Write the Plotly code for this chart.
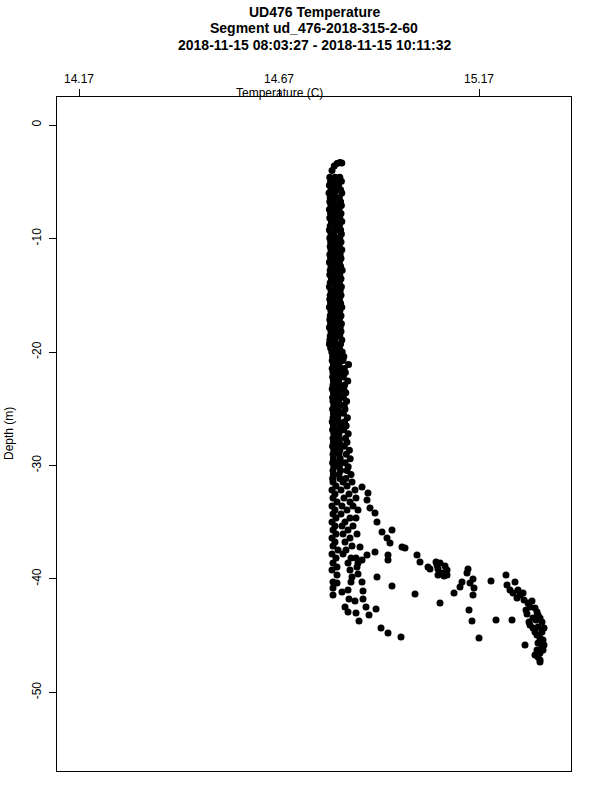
import plotly.graph_objects as go

# ---------------- data ----------------
x_tickvals = [14.17, 14.67, 15.17]
x_ticktext = ["14.17", "14.67", "15.17"]
y_tickvals = [0, -10, -20, -30, -40, -50]
y_ticktext = ["0", "-10", "-20", "-30", "-40", "-50"]

# top "hook" of the profile
hook_temp = [14.822, 14.815, 14.808, 14.8025, 14.827]
hook_depth = [-3.3, -3.4, -3.6, -4.0, -3.35]

# near-isothermal column: one depth per row, three temperatures per row
col_depth = [-4.6, -4.95, -5.3, -5.7, -6.0, -6.4, -6.75, -7.1, -7.45, -7.8,
             -8.2, -8.5, -8.9, -9.25, -9.6, -9.95, -10.3, -10.7, -11.0, -11.4,
             -11.75, -12.1, -12.45, -12.8, -13.2, -13.55, -13.9, -14.25, -14.6, -15.0,
             -15.35, -15.7, -16.05, -16.4, -16.8, -17.15, -17.5, -17.85, -18.2, -18.6,
             -18.95, -19.3, -19.65, -20.0, -20.4, -20.75, -21.1, -21.45, -21.8, -22.2,
             -22.55, -22.9, -23.25, -23.6, -24.0, -24.35, -24.7, -25.05, -25.4, -25.8,
             -26.15, -26.5, -26.85, -27.2, -27.6, -27.95, -28.3, -28.65, -29.0, -29.4,
             -29.75, -30.1, -30.45, -30.8, -31.15]
col_temp_left = [14.797, 14.799, 14.796, 14.800, 14.795, 14.798, 14.797, 14.800, 14.796, 14.799,
                 14.797, 14.801, 14.798, 14.796, 14.800, 14.797, 14.799, 14.798, 14.800, 14.797,
                 14.799, 14.796, 14.800, 14.798, 14.797, 14.801, 14.798, 14.796, 14.800, 14.798,
                 14.797, 14.799, 14.796, 14.800, 14.798, 14.797, 14.799, 14.796, 14.800, 14.798,
                 14.797, 14.796, 14.799, 14.802, 14.804, 14.803, 14.806, 14.803, 14.805, 14.804,
                 14.806, 14.805, 14.803, 14.806, 14.804, 14.805, 14.807, 14.804, 14.806, 14.805,
                 14.803, 14.806, 14.804, 14.807, 14.805, 14.806, 14.804, 14.807, 14.805, 14.806,
                 14.804, 14.807, 14.805, 14.806, 14.804]
col_temp_mid = [14.810, 14.812, 14.807, 14.813, 14.809, 14.811, 14.808, 14.814, 14.810, 14.812,
                14.809, 14.813, 14.810, 14.812, 14.808, 14.811, 14.813, 14.809, 14.812, 14.810,
                14.813, 14.808, 14.811, 14.814, 14.809, 14.812, 14.810, 14.813, 14.809, 14.811,
                14.813, 14.808, 14.812, 14.810, 14.813, 14.809, 14.811, 14.812, 14.810, 14.813,
                14.809, 14.811, 14.813, 14.816, 14.818, 14.816, 14.820, 14.818, 14.821, 14.817,
                14.819, 14.820, 14.818, 14.821, 14.817, 14.819, 14.820, 14.818, 14.821, 14.817,
                14.819, 14.822, 14.818, 14.820, 14.819, 14.821, 14.818, 14.822, 14.820, 14.823,
                14.819, 14.821, 14.824, 14.820, 14.822]
col_temp_right = [14.822, 14.826, 14.819, 14.824, 14.827, 14.821, 14.824, 14.826, 14.820, 14.825,
                  14.822, 14.827, 14.821, 14.824, 14.826, 14.822, 14.825, 14.821, 14.827, 14.823,
                  14.825, 14.821, 14.824, 14.828, 14.822, 14.825, 14.821, 14.826, 14.823, 14.825,
                  14.821, 14.824, 14.827, 14.822, 14.825, 14.821, 14.826, 14.823, 14.825, 14.822,
                  14.827, 14.824, 14.821, 14.828, 14.832, 14.830, 14.844, 14.833, 14.836, 14.831,
                  14.842, 14.834, 14.832, 14.837, 14.831, 14.839, 14.833, 14.835, 14.831, 14.841,
                  14.834, 14.838, 14.832, 14.843, 14.836, 14.840, 14.833, 14.846, 14.838, 14.848,
                  14.835, 14.843, 14.840, 14.850, 14.837]

# lower part of the cold column and the transition zone
low_temp = [14.805, 14.830, 14.8525, 14.8125, 14.840, 14.8025, 14.825, 14.860, 14.810, 14.845,
            14.805, 14.8325, 14.8625, 14.815, 14.8475, 14.8025, 14.8275, 14.855, 14.810, 14.840,
            14.8675, 14.805, 14.825, 14.8125, 14.8475, 14.8625, 14.8025, 14.835, 14.810, 14.8275,
            14.855, 14.805, 14.8425, 14.8125, 14.830, 14.865, 14.8025, 14.8475, 14.810, 14.835,
            14.805, 14.8525, 14.8175, 14.8375, 14.8025, 14.830, 14.8125, 14.850,
            14.805, 14.815, 14.8025, 14.8425, 14.8475, 14.8675, 14.865, 14.815, 14.8525, 14.8675,
            14.915, 14.805, 14.815, 14.850, 14.8775, 14.9525, 14.805, 14.8425, 14.880, 14.8275,
            14.805, 15.010, 14.845, 14.860, 14.880, 15.0725, 14.835, 14.8875, 14.9125, 14.8425,
            14.8625, 14.895, 14.870, 14.925, 14.9425, 14.975,
            14.8775, 14.8925, 14.890, 14.8975, 14.910, 14.915, 14.9275, 14.9525, 14.940, 14.9475,
            14.9775, 14.985, 14.910, 14.9425, 15.015, 15.0225, 15.0425, 15.065, 14.890, 14.8725,
            14.8625, 14.8775, 14.9425, 15.0675]
low_depth = [-31.45, -31.45, -31.45, -31.81, -31.81, -32.16, -32.16, -32.16, -32.51, -32.51,
             -32.86, -32.86, -32.86, -33.22, -33.22, -33.57, -33.57, -33.57, -33.92, -33.92,
             -33.92, -34.27, -34.27, -34.63, -34.63, -34.63, -34.98, -34.98, -35.33, -35.33,
             -35.33, -35.68, -35.68, -36.04, -36.04, -36.04, -36.39, -36.39, -36.74, -36.74,
             -37.09, -37.09, -37.44, -37.44, -37.80, -37.80, -38.15, -38.15,
             -38.59, -38.94, -39.21, -38.59, -39.21, -38.59, -38.94, -39.65, -39.82, -39.56,
             -39.82, -40.26, -40.35, -40.26, -40.26, -40.62, -40.79, -40.97, -41.06, -41.15,
             -41.41, -41.32, -41.76, -41.94, -41.76, -42.11, -42.47, -42.47, -42.64, -42.91,
             -43.00, -43.17, -43.70, -44.32, -44.76, -45.11,
             -31.89, -32.42, -33.04, -33.74, -34.19, -34.98, -35.86, -35.68, -36.39, -36.83,
             -37.18, -37.27, -37.62, -37.89, -37.89, -38.50, -38.94, -38.77, -37.89, -37.18,
             -38.15, -38.33, -38.33, -39.65]

# warm water near the bottom
deep_temp = [15.0625, 15.0725, 15.085, 15.090, 15.090, 15.080, 15.0675, 15.0825, 15.0475,
             15.1425, 15.140, 15.155, 15.1275, 15.1225, 15.1075, 15.1475, 15.1575, 15.155,
             15.200, 15.2375, 15.260, 15.240, 15.2475, 15.255, 15.2675, 15.2725, 15.280, 15.265,
             15.2825, 15.2925, 15.3025, 15.2975, 15.310, 15.315, 15.3175, 15.3225, 15.3275, 15.3125,
             15.2975, 15.305, 15.3175, 15.3275, 15.315, 15.3225, 15.330, 15.3175, 15.3275, 15.315,
             15.3225, 15.330, 15.3175, 15.3225, 15.3225, 15.285, 15.290, 15.295,
             15.145, 15.1525, 15.2125, 15.2525, 15.170,
             15.305, 15.310, 15.310, 15.3325, 15.3325, 15.2875]
deep_depth = [-38.50, -38.59, -38.85, -39.21, -39.65, -39.47, -39.12, -39.74, -39.12,
              -39.12, -39.47, -40.00, -40.26, -40.70, -41.23, -40.35, -40.79, -41.41,
              -40.18, -39.65, -40.26, -40.53, -40.97, -41.23, -40.97, -41.41, -41.23, -41.67,
              -41.85, -42.11, -41.94, -42.47, -42.56, -42.91, -43.17, -43.44, -43.79, -43.61,
              -44.05, -44.32, -44.23, -44.67, -44.93, -45.20, -45.37, -45.64, -45.99, -46.26,
              -46.52, -46.26, -46.87, -47.14, -47.31, -45.81, -43.08, -43.79,
              -42.73, -43.70, -43.61, -43.61, -45.20,
              -43.44, -44.67, -46.70, -44.32, -45.81, -42.73]

# ---------------- assemble ----------------
temps = list(hook_temp)
depths = list(hook_depth)
for d, a, b, c in zip(col_depth, col_temp_left, col_temp_mid, col_temp_right):
    temps += [a, b, c]
    depths += [d, d, d]
temps += low_temp + deep_temp
depths += low_depth + deep_depth

FONT = "Liberation Sans, Arial, Helvetica, sans-serif"

fig = go.Figure()
fig.add_trace(go.Scatter(
    x=temps, y=depths, mode="markers",
    marker=dict(color="black", size=7, line=dict(width=0)),
    hoverinfo="skip",
))

fig.update_layout(
    width=600, height=800,
    margin=dict(l=57, r=29, t=97, b=29),
    plot_bgcolor="white", paper_bgcolor="white",
    showlegend=False,
    font=dict(family=FONT, size=12, color="black"),
    xaxis=dict(
        side="top", range=[14.115, 15.40],
        tickvals=x_tickvals, ticktext=x_ticktext,
        ticks="outside", ticklen=7, tickwidth=1, tickcolor="black",
        ticklabelstandoff=1,
        showline=True, linewidth=1, linecolor="black", mirror=True,
        showgrid=False, zeroline=False,
        tickfont=dict(family=FONT, size=12, color="black"),
    ),
    yaxis=dict(
        range=[-56.92, 2.47],
        tickvals=y_tickvals, ticktext=y_ticktext, tickangle=-90,
        ticks="outside", ticklen=7, tickwidth=1, tickcolor="black",
        ticklabelstandoff=3,
        showline=True, linewidth=1, linecolor="black", mirror=True,
        showgrid=False, zeroline=False,
        tickfont=dict(family=FONT, size=12, color="black"),
    ),
    annotations=[
        dict(text="<b>UD476 Temperature</b>", xref="paper", yref="paper",
             x=0.5, y=(771 - 12) / 674, xanchor="center", yanchor="middle",
             showarrow=False, font=dict(family=FONT, size=14, color="black")),
        dict(text="<b>Segment ud_476-2018-315-2-60</b>", xref="paper", yref="paper",
             x=0.5, y=(771 - 28) / 674, xanchor="center", yanchor="middle",
             showarrow=False, font=dict(family=FONT, size=14, color="black")),
        dict(text="<b>2018-11-15 08:03:27 - 2018-11-15 10:11:32</b>", xref="paper", yref="paper",
             x=0.5, y=(771 - 45) / 674, xanchor="center", yanchor="middle",
             showarrow=False, font=dict(family=FONT, size=14, color="black")),
        dict(text="Temperature (C)", xref="x", yref="paper",
             x=14.67, y=(771 - 93) / 674, xanchor="center", yanchor="middle",
             showarrow=False, font=dict(family=FONT, size=12, color="black")),
        dict(text="Depth (m)", xref="paper", yref="paper",
             x=(9 - 57) / 514, y=0.5, xanchor="center", yanchor="middle",
             textangle=-90, showarrow=False, font=dict(family=FONT, size=12, color="black")),
    ],
)

# remove the browser's default 8px body margin so the figure sits at the page origin
fig.write_html("out.html", config={"displayModeBar": False},
               post_script="document.body.style.margin='0';")
